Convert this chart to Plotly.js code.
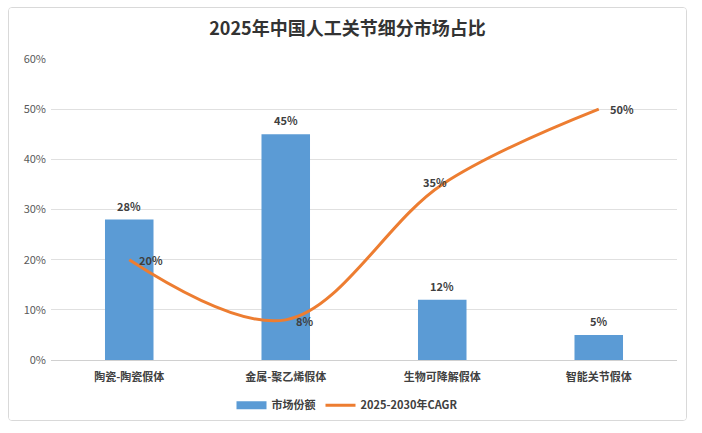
<!DOCTYPE html>
<html>
<head>
<meta charset="utf-8">
<script src="https://cdn.plot.ly/plotly-3.0.1.min.js"></script>
<style>
html,body{margin:0;padding:0;background:#fff;width:702px;height:433px;overflow:hidden;}
#wrap{position:absolute;left:8px;top:7px;width:677px;height:412px;border:1px solid #d9d9d9;border-radius:4px;overflow:hidden;}
#chart{width:677px;height:412px;}
</style>
</head>
<body>
<div id="wrap"><div id="chart"></div></div>
<script>
const categories = ['陶瓷-陶瓷假体', '金属-聚乙烯假体', '生物可降解假体', '智能关节假体'];
const marketShare = [0.28, 0.45, 0.12, 0.05];
const cagr = [0.20, 0.08, 0.35, 0.50];
const shareLabels = ['28%', '45%', '12%', '5%'];
const cagrLabels = ['20%', '8%', '35%', '50%'];
const yTickVals = [0, 0.1, 0.2, 0.3, 0.4, 0.5, 0.6];
const yTickText = ['0%', '10%', '20%', '30%', '40%', '50%', '60%'];
const seriesNames = ['市场份额', '2025-2030年CAGR'];
const titleText = '2025年中国人工关节细分市场占比';

const FONT = '"Noto Sans CJK SC", "Noto Sans", sans-serif';
const cagrShift = [[22, 0], [19, -1], [-7, 2], [23, 0]];
const labelFont = {family: FONT, size: 11, color: '#404040', weight: 'bold'};

const traces = [
  {
    type: 'bar', x: categories, y: marketShare, name: seriesNames[0],
    marker: {color: '#5b9bd5'}, showlegend: false, hoverinfo: 'skip'
  },
  {
    type: 'scatter', mode: 'lines', x: [null], y: [null], name: seriesNames[0],
    line: {color: '#5b9bd5', width: 8}, hoverinfo: 'skip'
  },
  {
    type: 'scatter', mode: 'lines', x: categories, y: cagr, name: seriesNames[1],
    line: {color: '#ed7d31', width: 3, shape: 'spline', smoothing: 1},
    hoverinfo: 'skip'
  }
];

const annotations = categories.map((c, i) => ({
  x: c, y: marketShare[i], xref: 'x', yref: 'y', text: shareLabels[i], showarrow: false,
  yanchor: 'middle', yshift: 14, font: labelFont
})).concat(categories.map((c, i) => ({
  x: c, y: cagr[i], xref: 'x', yref: 'y', text: cagrLabels[i], showarrow: false,
  xshift: cagrShift[i][0], yshift: cagrShift[i][1], font: labelFont
})));

const layout = {
  width: 677, height: 412,
  margin: {l: 42, r: 9, t: 51, b: 60, autoexpand: false},
  paper_bgcolor: '#fff', plot_bgcolor: '#fff',
  title: {text: titleText, x: 0.5, xanchor: 'center', y: 0.95, yanchor: 'middle',
          font: {family: FONT, size: 18, color: '#333', weight: 'bold'}},
  bargap: 0.69,
  xaxis: {type: 'category', showgrid: false, zeroline: false, showline: false, ticks: '',
          tickfont: {family: FONT, size: 11, color: '#404040', weight: 'bold'}, fixedrange: true,
          ticklabelstandoff: 9, automargin: false},
  yaxis: {range: [0, 0.6], tickvals: yTickVals, ticktext: yTickText, showgrid: true,
          gridcolor: '#e0e0e0', gridwidth: 1, zeroline: true, zerolinecolor: '#d0d0d0', showline: false,
          tickfont: {family: FONT, size: 11, color: '#595959'}, fixedrange: true, ticklabelstandoff: 4,
          automargin: false},
  legend: {orientation: 'h', x: 0.5, xanchor: 'center', xref: 'container', y: 0.036, yanchor: 'middle', yref: 'container',
           font: {family: FONT, size: 11, color: '#404040', weight: 'bold'}, tracegroupgap: 0},
  showlegend: true,
  annotations: annotations
};

Plotly.newPlot('chart', traces, layout, {staticPlot: true, displayModeBar: false});
</script>
</body>
</html>
